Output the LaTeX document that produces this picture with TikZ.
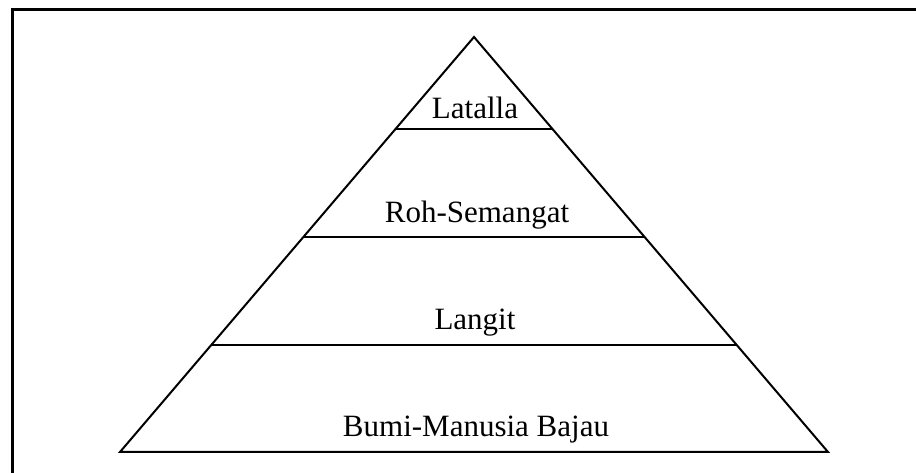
\documentclass[tikz,border=0pt]{standalone}
\usepackage{fontspec}
\setmainfont{Liberation Serif}
\usetikzlibrary{calc}
\begin{document}
\begin{tikzpicture}[x=1pt,y=1pt,
  edge/.style={line width=2pt, line join=miter},
  frame/.style={line width=3pt},
  lbl/.style={anchor=base, inner sep=0pt, font=\fontsize{31}{37}\selectfont}]
\useasboundingbox (0,0) rectangle (916,473);
\draw[frame] (12,0) -- (12,463) -- (916,463);
\coordinate (apex) at (474,436);
\coordinate (bl) at (120,21);
\coordinate (br) at (828,21);
\draw[edge] (apex) -- (bl) -- (br) -- cycle;
\coordinate (l1) at ($(apex)!0.2217!(bl)$);
\coordinate (r1) at ($(apex)!0.2217!(br)$);
\coordinate (l2) at ($(apex)!0.4819!(bl)$);
\coordinate (r2) at ($(apex)!0.4819!(br)$);
\coordinate (l3) at ($(apex)!0.7422!(bl)$);
\coordinate (r3) at ($(apex)!0.7422!(br)$);
\draw[edge] (l1) -- (r1);
\draw[edge] (l2) -- (r2);
\draw[edge] (l3) -- (r3);
\node[lbl] (t1) at (475,354) {Latalla};
\node[lbl] (t2) at (477,250) {Roh-Semangat};
\node[lbl] (t3) at (475,143) {Langit};
\node[lbl] (t4) at (476,36) {Bumi-Manusia Bajau};
\end{tikzpicture}
\end{document}
